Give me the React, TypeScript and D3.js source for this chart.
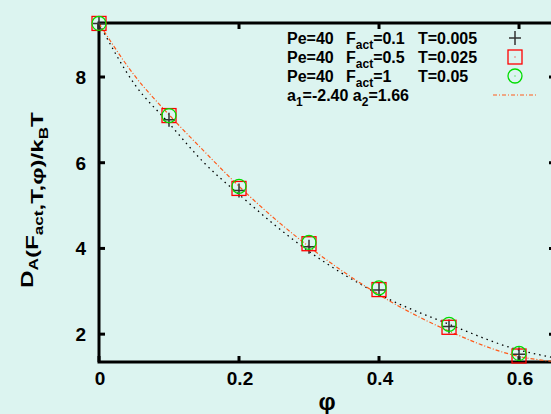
import React, { useEffect, useRef } from 'react';
import * as d3 from 'd3';

// volume fraction of the measured points
const phi = [0, 0.1, 0.2, 0.3, 0.4, 0.5, 0.6];
// Pe=40 runs
const dF01 = [9.25, 7.0, 5.35, 4.04, 3.03, 2.18, 1.53];
const dF05 = [9.25, 7.1, 5.4, 4.11, 3.04, 2.16, 1.49];
const dF1 = [9.25, 7.1, 5.45, 4.14, 3.08, 2.23, 1.55];

// curves
const curvePhi = [0, 0.05, 0.1, 0.15, 0.2, 0.3, 0.4, 0.5, 0.6, 0.65];
const fitCurve = [9.25, 8.05, 7.12, 6.27, 5.45, 4.04, 2.92, 2.07, 1.48, 1.36];
const dotCurve = [9.25, 7.85, 6.92, 6.0, 5.26, 3.93, 2.93, 2.23, 1.63, 1.45];

const xTicks = [0, 0.2, 0.4, 0.6];
const yTicks = [2, 4, 6, 8];

const FONT = '"Liberation Sans", Arial, sans-serif';

export default function App() {
    const ref = useRef<SVGSVGElement>(null);

    useEffect(() => {
        const svg = d3.select(ref.current);
        svg.selectAll('*').remove();

        const W = 551, H = 414;
        const left = 99, right = 555, top = 23, bottom = 362;

        svg.append('rect').attr('width', W).attr('height', H).attr('fill', '#dcf4f0');

        const x = d3.scaleLinear().domain([0, 0.6514]).range([left, right]);
        const y = d3.scaleLinear().domain([1.35, 9.26]).range([bottom, top]);

        const g = svg.append('g');

        // frame
        g.append('rect')
            .attr('x', left).attr('y', top)
            .attr('width', right - left).attr('height', bottom - top)
            .attr('fill', 'none').attr('stroke', '#000').attr('stroke-width', 3);

        // ticks, pointing inward on all four sides
        xTicks.forEach(t => {
            g.append('line').attr('x1', x(t)).attr('x2', x(t)).attr('y1', bottom).attr('y2', bottom - 6)
                .attr('stroke', '#000').attr('stroke-width', 3);
            g.append('line').attr('x1', x(t)).attr('x2', x(t)).attr('y1', top).attr('y2', top + 6)
                .attr('stroke', '#000').attr('stroke-width', 3);
            g.append('text')
                .attr('x', x(t) + 1).attr('y', bottom + 23)
                .attr('text-anchor', 'middle')
                .attr('font-family', FONT).attr('font-weight', 'bold').attr('font-size', 19)
                .text(t === 0 ? '0' : d3.format('.1f')(t));
        });
        yTicks.forEach(t => {
            g.append('line').attr('x1', left).attr('x2', left + 6).attr('y1', y(t)).attr('y2', y(t))
                .attr('stroke', '#000').attr('stroke-width', 3);
            g.append('line').attr('x1', right).attr('x2', right - 6).attr('y1', y(t)).attr('y2', y(t))
                .attr('stroke', '#000').attr('stroke-width', 3);
            g.append('text')
                .attr('x', 86).attr('y', y(t) + 7)
                .attr('text-anchor', 'end')
                .attr('font-family', FONT).attr('font-weight', 'bold').attr('font-size', 19)
                .text(t);
        });

        // x label
        g.append('text')
            .attr('x', 327).attr('y', 410)
            .attr('text-anchor', 'middle')
            .attr('font-family', FONT).attr('font-weight', 'bold').attr('font-size', 24)
            .text('φ');

        // y label (stretched like the original)
        const yl = g.append('text')
            .attr('font-family', FONT).attr('font-weight', 'bold').attr('font-size', 17);
        const sub = (base: string, s: string) => {
            yl.append('tspan').text(base);
            yl.append('tspan').attr('font-size', 12).attr('dy', 5).text(s);
            yl.append('tspan').attr('dy', -5).text('');
        };
        sub('D', 'A');
        sub('(F', 'act');
        yl.append('tspan').text(',T,φ)/k');
        yl.append('tspan').attr('font-size', 12).attr('dy', 5).text('B');
        yl.append('tspan').attr('dy', -5).text('T');
        const len = (yl.node() as SVGTextElement).getComputedTextLength();
        const sx = 176 / len;
        yl.attr('text-anchor', 'middle')
            .attr('transform', `translate(33,200) rotate(-90) scale(${sx},1)`);

        // curves
        const line = d3.line<number>()
            .x((d, i) => x(curvePhi[i]))
            .y(d => y(d))
            .curve(d3.curveMonotoneX);
        g.append('path').attr('d', line(dotCurve))
            .attr('fill', 'none').attr('stroke', '#000').attr('stroke-width', 1.3)
            .attr('stroke-dasharray', '1.5,4');
        g.append('path').attr('d', line(fitCurve))
            .attr('fill', 'none').attr('stroke', '#ff5a1a').attr('stroke-width', 1.2)
            .attr('stroke-dasharray', '4,2,1,2');

        // markers
        const plus = (cx: number, cy: number) => {
            g.append('path')
                .attr('d', `M${cx - 6},${cy}H${cx + 6}M${cx},${cy - 7}V${cy + 7}`)
                .attr('stroke', '#333').attr('stroke-width', 1.5).attr('fill', 'none');
        };
        const square = (cx: number, cy: number) => {
            g.append('rect').attr('x', cx - 7).attr('y', cy - 7).attr('width', 14).attr('height', 14)
                .attr('fill', 'none').attr('stroke', '#f00').attr('stroke-width', 1.3);
        };
        const circle = (cx: number, cy: number) => {
            g.append('circle').attr('cx', cx).attr('cy', cy).attr('r', 7)
                .attr('fill', 'none').attr('stroke', '#0d0').attr('stroke-width', 1.3);
        };
        phi.forEach((p, i) => plus(x(p), y(dF01[i])));
        phi.forEach((p, i) => square(x(p), y(dF05[i])));
        phi.forEach((p, i) => circle(x(p), y(dF1[i])));

        // legend
        const rows = [
            { F: '=0.1', T: 'T=0.005' },
            { F: '=0.5', T: 'T=0.025' },
            { F: '=1', T: 'T=0.05' },
        ];
        rows.forEach((r, i) => {
            const by = 43.5 + i * 19;
            g.append('text').attr('x', 287).attr('y', by)
                .attr('font-family', FONT).attr('font-weight', 'bold').attr('font-size', 16)
                .text('Pe=40');
            const t = g.append('text').attr('x', 346).attr('y', by)
                .attr('font-family', FONT).attr('font-weight', 'bold').attr('font-size', 16);
            t.append('tspan').text('F');
            t.append('tspan').attr('font-size', 12).attr('dy', 5).text('act');
            t.append('tspan').attr('dy', -5).text(r.F);
            g.append('text').attr('x', 418).attr('y', by)
                .attr('font-family', FONT).attr('font-weight', 'bold').attr('font-size', 16)
                .text(r.T);
        });
        const a = g.append('text').attr('x', 287).attr('y', 100.5)
            .attr('font-family', FONT).attr('font-weight', 'bold').attr('font-size', 16);
        a.append('tspan').text('a');
        a.append('tspan').attr('font-size', 12).attr('dy', 5).text('1');
        a.append('tspan').attr('dy', -5).text('=-2.40 a');
        a.append('tspan').attr('font-size', 12).attr('dy', 5).text('2');
        a.append('tspan').attr('dy', -5).text('=1.66');

        plus(515, 38);
        square(515, 57);
        g.append('rect').attr('x', 514.5).attr('y', 56.5).attr('width', 1).attr('height', 1).attr('fill', '#f00');
        circle(515, 76);
        g.append('rect').attr('x', 514.5).attr('y', 75.5).attr('width', 1).attr('height', 1).attr('fill', '#0d0');
        g.append('line').attr('x1', 493).attr('x2', 537).attr('y1', 95).attr('y2', 95)
            .attr('stroke', '#ff5a1a').attr('stroke-width', 1.2).attr('stroke-dasharray', '4,2,1,2');
    }, []);

    return (
        <svg ref={ref} width={551} height={414}
            style={{ position: 'absolute', left: 0, top: 0, display: 'block' }} />
    );
}
